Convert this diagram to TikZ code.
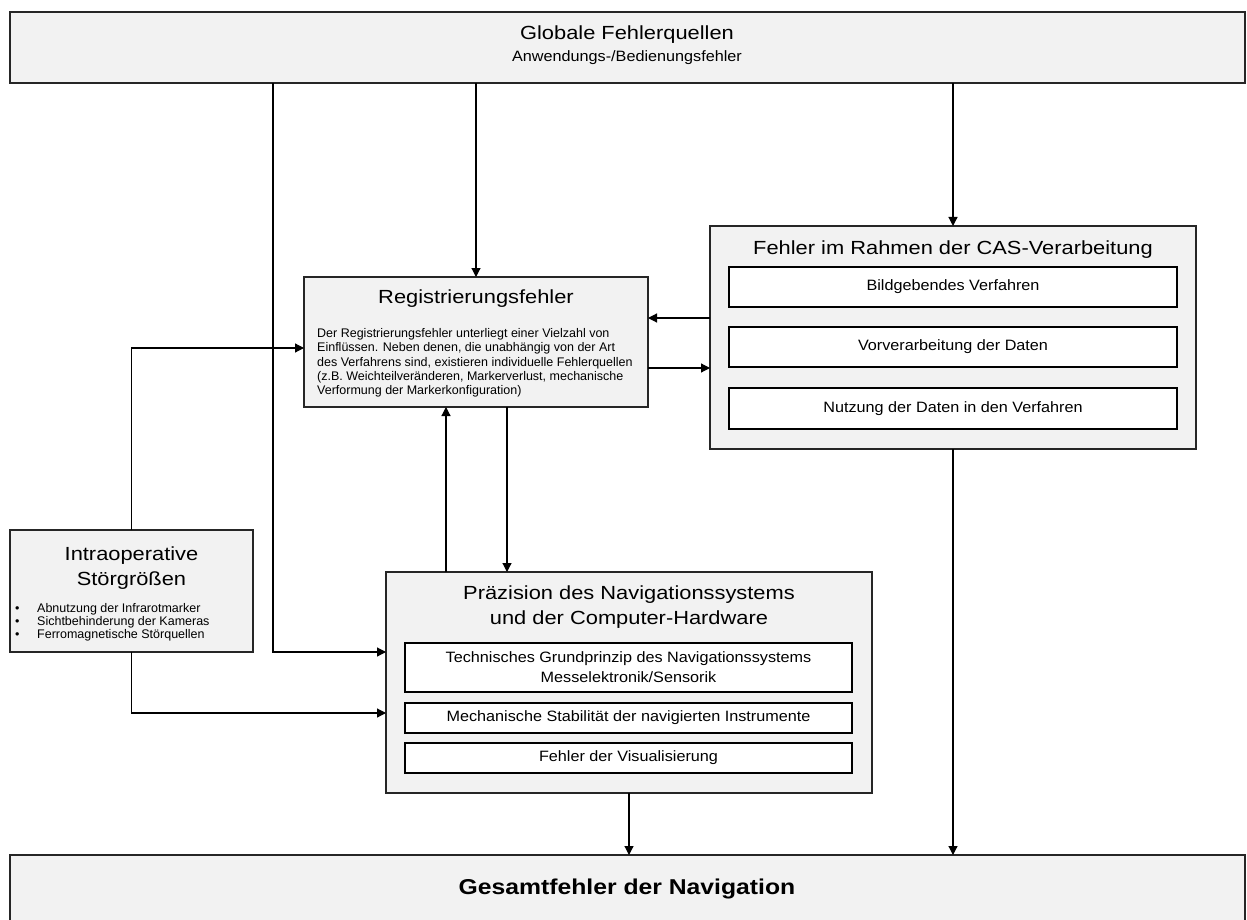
\documentclass[tikz,border=0pt]{standalone}
\usepackage{fontspec}
\setmainfont{Liberation Sans}
\newfontfamily\ttlfont{Liberation Sans}[FakeStretch=1.15]
\newfontfamily\midfont{Liberation Sans}[FakeStretch=1.08]
\usetikzlibrary{arrows.meta}
\newcommand\bul{\makebox[25pt][l]{\hspace{3pt}\textbullet}}
\begin{document}
\begin{tikzpicture}[x=1pt,y=-1pt,
  obox/.style={draw=black!85, line width=1.3pt, fill=black!5, inner sep=0pt, outer sep=0pt, anchor=north west},
  ibox/.style={draw=black, line width=1.3pt, fill=white, inner sep=0pt, outer sep=0pt, anchor=north west,
               align=center, font=\midfont\fontsize{15}{20}\selectfont},
  conn/.style={line width=1.2pt, draw=black},
  arr/.style={conn, -{Triangle[length=9pt,width=9pt]}},
  ttl/.style={font=\ttlfont\fontsize{19}{25}\selectfont, align=center, inner sep=0pt},
  body/.style={font=\fontsize{12.5}{14.4}\selectfont, align=left, inner sep=0pt, anchor=north west},
  bullets/.style={font=\fontsize{12.5}{13}\selectfont, align=left, inner sep=0pt, anchor=north west}
]
\useasboundingbox (0,0) rectangle (1247,920);

% boxes
\node[obox, minimum width=1235pt, minimum height=71pt] (glob) at (10,12) {};
\node[obox, minimum width=344pt, minimum height=130pt] (reg) at (304,277) {};
\node[obox, minimum width=486pt, minimum height=223pt] (cas) at (710,226) {};
\node[obox, minimum width=243pt, minimum height=122pt] (intra) at (10,530) {};
\node[obox, minimum width=486pt, minimum height=221pt] (prz) at (386,572) {};
\node[obox, minimum width=1235pt, minimum height=85pt] (ges) at (10,855) {};

\node[ibox, minimum width=448pt, minimum height=40pt] (cas1) at (729,267) {Bildgebendes Verfahren};
\node[ibox, minimum width=448pt, minimum height=40pt] (cas2) at (729,327) {Vorverarbeitung der Daten};
\node[ibox, minimum width=448pt, minimum height=41pt] (cas3) at (729,388) {Nutzung der Daten in den Verfahren};

\node[ibox, minimum width=447pt, minimum height=49pt] (p1) at (405,643) {Technisches Grundprinzip des Navigationssystems\\Messelektronik/Sensorik};
\node[ibox, minimum width=447pt, minimum height=30pt] (p2) at (405,703) {Mechanische Stabilität der navigierten Instrumente};
\node[ibox, minimum width=447pt, minimum height=30pt] (p3) at (405,743) {Fehler der Visualisierung};

% texts
\node[ttl] (globt) at (627,35) {Globale Fehlerquellen};
\node[font=\midfont\fontsize{15}{18}\selectfont, inner sep=0pt] (globs) at (627,58) {Anwendungs-/Bedienungsfehler};
\node[ttl] (regt) at (476,299) {Registrierungsfehler};
\node[body] (regb) at (317,328) {Der Registrierungsfehler unterliegt einer Vielzahl von\\Einflüssen. Neben denen, die unabhängig von der Art\\des Verfahrens sind, existieren individuelle Fehlerquellen\\(z.B. Weichteilveränderen, Markerverlust, mechanische\\Verformung der Markerkonfiguration)};
\node[ttl] (cast) at (953,250) {Fehler im Rahmen der CAS-Verarbeitung};
\node[ttl] (intrat) at (131.5,568) {Intraoperative\\Störgrößen};
\node[bullets] (intrab) at (12,603) {\bul Abnutzung der Infrarotmarker\\\bul Sichtbehinderung der Kameras\\\bul Ferromagnetische Störquellen};
\node[ttl] (przt) at (629,607.5) {Präzision des Navigationssystems\\und der Computer-Hardware};
\node[font=\ttlfont\bfseries\fontsize{21.5}{25}\selectfont, inner sep=0pt] (gest) at (627,889) {Gesamtfehler der Navigation};

% helper coordinates
\coordinate (gx) at (273,0);
\coordinate (ux) at (446,0);
\coordinate (dx) at (507,0);
\coordinate (y318) at (0,318);
\coordinate (y348) at (0,348);
\coordinate (y368) at (0,368);
\coordinate (y652) at (0,652);
\coordinate (y713) at (0,713);

% connectors
\draw[arr] (reg.north |- glob.south) -- (reg.north);
\draw[arr] (cas.north |- glob.south) -- (cas.north);
\draw[arr] (gx |- glob.south) |- (prz.west |- y652);
\draw[arr] (intra.north) |- (reg.west |- y348);
\draw[arr] (intra.south) |- (prz.west |- y713);
\draw[arr] (cas.west |- y318) -- (reg.east |- y318);
\draw[arr] (reg.east |- y368) -- (cas.west |- y368);
\draw[arr] (ux |- prz.north) -- (ux |- reg.south);
\draw[arr] (dx |- reg.south) -- (dx |- prz.north);
\draw[arr] (prz.south) -- (ges.north -| prz.south);
\draw[arr] (cas.south) -- (ges.north -| cas.south);
\end{tikzpicture}
\end{document}
